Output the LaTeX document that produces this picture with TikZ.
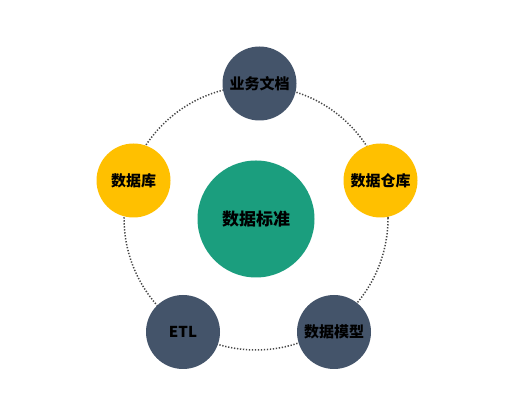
\documentclass[tikz,border=0pt]{standalone}
\usepackage{fontspec}
\newfontfamily\cjk{Noto Sans CJK SC}
\usepackage{tikz}
\usepackage{xcolor}
\definecolor{slate}{HTML}{44546A}
\definecolor{amber}{HTML}{FFC000}
\definecolor{teal}{HTML}{1B9E7E}
\tikzset{
  ball/.style={circle, minimum size=74pt, inner sep=0pt, fill=#1,
    font=\cjk\bfseries\fontsize{15}{17}\selectfont, text=black},
  ring/.style={line width=1.5pt, gray!55!black, dash pattern=on 1.3pt off 1.7pt}
}
\begin{document}
\begin{tikzpicture}[x=1pt,y=1pt]
\useasboundingbox[fill=white](0,0) rectangle (524,419);
\coordinate (mid) at (256,201);
\draw[ring](mid) circle (132);
\node (std) at (256,200)[ball=teal, minimum size=117pt, font=\cjk\bfseries\fontsize{17}{19}\selectfont]{数据标准};
\foreach \n/\x/\y/\c/\t in {doc/259.5/335.5/slate/业务文档, db/133.5/238.5/amber/数据库,
  dw/380.5/238.5/amber/数据仓库, etl/183/87/slate/ETL, model/334/87/slate/数据模型}{
\node (\n) at (\x,\y)[ball=\c]{\t};}
\end{tikzpicture}
\end{document}
